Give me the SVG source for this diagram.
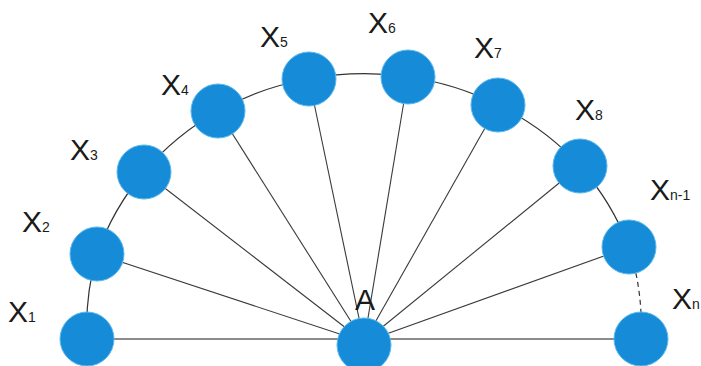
<svg xmlns="http://www.w3.org/2000/svg" width="701" height="366" viewBox="0 0 701 366">
<style>
.arc{fill:none;stroke:#333;stroke-width:1.2}
.dash{stroke-dasharray:5,4}
.sp{stroke:#3a3a3a;stroke-width:1.1}
.base{stroke:#666;stroke-width:1.5}
.n{fill:#168cd8;stroke:#5ab8ee;stroke-width:1}
.t{font-family:"Liberation Sans",Arial,sans-serif;font-size:30px;fill:#1a1a1a}
.s{font-size:14px}
</style>
<rect width="701" height="366" fill="#ffffff"/>
<g id="connectors">
<line class="base" x1="87" y1="339" x2="641" y2="339"/>
<line class="sp" x1="364" y1="342" x2="97" y2="254"/>
<line class="sp" x1="364" y1="342" x2="144" y2="172"/>
<line class="sp" x1="364" y1="342" x2="218" y2="111"/>
<line class="sp" x1="364" y1="342" x2="309" y2="79"/>
<line class="sp" x1="364" y1="342" x2="408" y2="77"/>
<line class="sp" x1="364" y1="342" x2="498" y2="105"/>
<line class="sp" x1="364" y1="342" x2="580" y2="166"/>
<line class="sp" x1="364" y1="342" x2="629" y2="247"/>
<path class="arc" d="M87,339 A278,268 0 0 1 97,254 A278,268 0 0 1 144,172 A278,268 0 0 1 218,111 A278,268 0 0 1 309,79 A278,268 0 0 1 408,77 A278,268 0 0 1 498,105 A278,268 0 0 1 580,166 A278,268 0 0 1 629,247"/>
<path class="arc dash" d="M629,247 A278,268 0 0 1 641,339"/>
</g>
<g id="X1"><circle class="n" cx="87" cy="339" r="27"/><text class="t" x="8" y="322">X<tspan class="s">1</tspan></text></g>
<g id="X2"><circle class="n" cx="97" cy="254" r="27"/><text class="t" x="22" y="232">X<tspan class="s">2</tspan></text></g>
<g id="X3"><circle class="n" cx="144" cy="172" r="27"/><text class="t" x="70" y="160">X<tspan class="s">3</tspan></text></g>
<g id="X4"><circle class="n" cx="218" cy="111" r="27"/><text class="t" x="161" y="95">X<tspan class="s">4</tspan></text></g>
<g id="X5"><circle class="n" cx="309" cy="79" r="27"/><text class="t" x="260" y="47">X<tspan class="s">5</tspan></text></g>
<g id="X6"><circle class="n" cx="408" cy="77" r="27"/><text class="t" x="368" y="33">X<tspan class="s">6</tspan></text></g>
<g id="X7"><circle class="n" cx="498" cy="105" r="27"/><text class="t" x="474" y="58">X<tspan class="s">7</tspan></text></g>
<g id="X8"><circle class="n" cx="580" cy="166" r="27"/><text class="t" x="575" y="120">X<tspan class="s">8</tspan></text></g>
<g id="Xn-1"><circle class="n" cx="629" cy="247" r="27"/><text class="t" x="650" y="200">X<tspan class="s">n-1</tspan></text></g>
<g id="Xn"><circle class="n" cx="641" cy="339" r="27"/><text class="t" x="672" y="309">X<tspan class="s">n</tspan></text></g>
<g id="A"><circle class="n" cx="364" cy="345" r="27"/><text class="t" x="355" y="310">A</text></g>
</svg>
